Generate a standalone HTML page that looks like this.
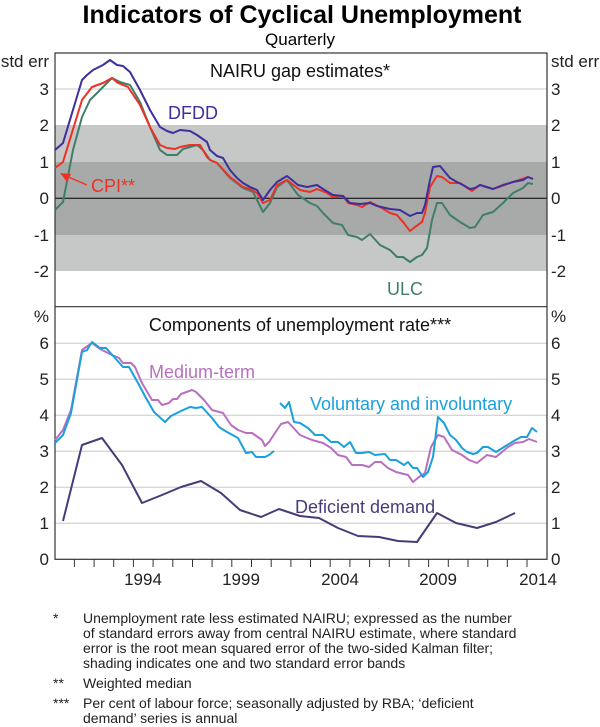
<!DOCTYPE html>
<html><head><meta charset="utf-8"><style>
body{margin:0;background:#fff;}
svg{display:block;font-family:"Liberation Sans",Arial,sans-serif;}
</style></head><body>
<svg width="600" height="727" viewBox="0 0 600 727" xmlns="http://www.w3.org/2000/svg">
<text x="302" y="23" text-anchor="middle" font-size="25" font-weight="bold" fill="#000">Indicators of Cyclical Unemployment</text>
<text x="300" y="45" text-anchor="middle" font-size="17" fill="#000">Quarterly</text>
<rect x="55" y="125" width="492" height="146" fill="#c6c7c7"/>
<rect x="55" y="162" width="492" height="73" fill="#a8aaaa"/>
<line x1="55" y1="89" x2="547" y2="89" stroke="#c8c8c8" stroke-width="1"/>
<line x1="55" y1="198.3" x2="547" y2="198.3" stroke="#000" stroke-width="1"/>
<g stroke="#c8c8c8" stroke-width="1">
<line x1="55" y1="343.3" x2="547" y2="343.3"/><line x1="55" y1="379.3" x2="547" y2="379.3"/>
<line x1="55" y1="415.3" x2="547" y2="415.3"/><line x1="55" y1="451.3" x2="547" y2="451.3"/>
<line x1="55" y1="487.3" x2="547" y2="487.3"/><line x1="55" y1="523.3" x2="547" y2="523.3"/>
</g>
<rect x="55" y="53" width="492" height="506.3" fill="none" stroke="#333" stroke-width="1.2"/>
<line x1="55" y1="306.7" x2="547" y2="306.7" stroke="#333" stroke-width="1.2"/>
<g stroke="#333" stroke-width="1">
<line x1="74.4" y1="559" x2="74.4" y2="567"/><line x1="94.1" y1="559" x2="94.1" y2="567"/><line x1="113.7" y1="559" x2="113.7" y2="567"/><line x1="133.4" y1="559" x2="133.4" y2="567"/><line x1="153.1" y1="559" x2="153.1" y2="567"/><line x1="172.8" y1="559" x2="172.8" y2="567"/><line x1="192.5" y1="559" x2="192.5" y2="567"/><line x1="212.1" y1="559" x2="212.1" y2="567"/><line x1="231.8" y1="559" x2="231.8" y2="567"/><line x1="251.5" y1="559" x2="251.5" y2="567"/><line x1="271.2" y1="559" x2="271.2" y2="567"/><line x1="290.9" y1="559" x2="290.9" y2="567"/><line x1="310.5" y1="559" x2="310.5" y2="567"/><line x1="330.2" y1="559" x2="330.2" y2="567"/><line x1="349.9" y1="559" x2="349.9" y2="567"/><line x1="369.6" y1="559" x2="369.6" y2="567"/><line x1="389.3" y1="559" x2="389.3" y2="567"/><line x1="408.9" y1="559" x2="408.9" y2="567"/><line x1="428.6" y1="559" x2="428.6" y2="567"/><line x1="448.3" y1="559" x2="448.3" y2="567"/><line x1="468" y1="559" x2="468" y2="567"/><line x1="487.7" y1="559" x2="487.7" y2="567"/><line x1="507.3" y1="559" x2="507.3" y2="567"/><line x1="527" y1="559" x2="527" y2="567"/>
</g>
<g font-size="17" fill="#222" text-anchor="middle">
<text x="143" y="585">1994</text><text x="241" y="585">1999</text><text x="340" y="585">2004</text><text x="438" y="585">2009</text><text x="538" y="585">2014</text>
</g>
<g font-size="17" fill="#222" text-anchor="end">
<text x="49" y="67">std err</text>
<text x="49" y="95">3</text><text x="49" y="131">2</text><text x="49" y="168">1</text><text x="49" y="204">0</text><text x="49" y="241">-1</text><text x="49" y="277">-2</text>
<text x="49" y="322">%</text>
<text x="49" y="349">6</text><text x="49" y="385">5</text><text x="49" y="421">4</text><text x="49" y="457">3</text><text x="49" y="493">2</text><text x="49" y="529">1</text><text x="49" y="565">0</text>
</g>
<g font-size="17" fill="#222" text-anchor="start">
<text x="551" y="67">std err</text>
<text x="551" y="95">3</text><text x="551" y="131">2</text><text x="551" y="168">1</text><text x="551" y="204">0</text><text x="551" y="241">-1</text><text x="551" y="277">-2</text>
<text x="551" y="322">%</text>
<text x="551" y="349">6</text><text x="551" y="385">5</text><text x="551" y="421">4</text><text x="551" y="457">3</text><text x="551" y="493">2</text><text x="551" y="529">1</text><text x="551" y="565">0</text>
</g>
<text x="300" y="77" text-anchor="middle" font-size="18" fill="#111">NAIRU gap estimates*</text>
<text x="300" y="331" text-anchor="middle" font-size="18" fill="#111">Components of unemployment rate***</text>
<g fill="none" stroke-width="2" stroke-linejoin="round">
<polyline stroke="#3f7f6a" points="55,210 63,202 73,150 82,117 90,100 100,90 112,78 120,82 130,85 140,102 150,127 160,150 167,155 177,155 183,149 197,145 203,150 210,160 217,163 230,178 243,188 253,192 263,212 270,203 277,187 287,180 298,195 310,203 317,206 323,213 333,223 342,225 348,235 357,237 362,240 370,234 380,245 390,250 397,257 403,257 410,262 417,257 422,255 427,248 432,220 437,203 442,203 450,215 460,222 470,228 475,227 483,215 493,212 503,203 513,193 523,188 528,183 533,184"/>
<polyline stroke="#ee3124" points="55,168 63,162 82,100 92,87 103,83 112,78 118,83 128,87 140,105 150,127 160,145 167,148 175,149 180,147 190,145 200,145 207,157 210,160 217,163 230,177 243,187 250,189 257,193 263,203 270,200 277,185 287,180 300,190 310,192 317,189 327,193 333,197 343,196 348,203 357,205 362,207 370,202 380,207 390,213 397,215 403,222 410,231 415,227 422,222 425,213 430,187 437,176 442,177 450,183 460,183 472,191 480,185 493,189 513,182 528,177 533,179"/>
<polyline stroke="#3d2f9c" points="55,150 63,143 82,80 87,75 93,70 103,65 110,60 117,65 123,66 130,72 140,90 150,110 160,127 167,131 173,133 180,130 190,131 197,135 207,142 210,150 217,156 223,158 230,170 237,178 243,183 250,187 257,190 263,200 270,190 277,182 287,176 298,185 307,187 317,185 323,189 333,195 343,196 350,203 360,204 370,203 377,206 390,209 400,210 405,213 410,216 417,213 422,213 425,205 430,180 433,167 440,166 450,178 457,182 463,185 470,189 475,188 480,185 493,189 503,185 513,182 523,180 528,177 533,179"/>
</g>
<text x="168" y="119" font-size="18" fill="#3d2f9c">DFDD</text>
<text x="91" y="192" font-size="18" fill="#ee3124">CPI**</text>
<line x1="87" y1="185" x2="66" y2="176" stroke="#ee3124" stroke-width="1.3"/>
<polygon points="60,173 71,174 67,182" fill="#ee3124"/>
<text x="387" y="295" font-size="18" fill="#3f7f6a">ULC</text>
<g fill="none" stroke-width="2" stroke-linejoin="round">
<polyline stroke="#b86fc0" points="55,440 63,430 71,410 82,350 92,343 100,349 112,355 119,358 123,363 131,363 135,367 142,383 152,400 158,400 162,405 169,403 173,399 177,399 181,394 192,390 196,392 204,400 212,410 223,413 231,425 238,430 246,433 252,433 262,440 265,446 269,442 281,424 288,422 300,435 312,440 323,443 331,448 338,455 346,457 352,465 362,465 369,467 375,462 381,462 388,468 396,472 408,475 413,482 419,477 425,473 431,447 438,435 444,437 452,450 462,455 469,460 477,463 487,455 496,457 508,447 515,443 523,442 529,439 537,442"/>
<polyline stroke="#1aa0dc" points="55,443 63,435 71,413 82,352 87,350 92,342 100,348 106,348 115,358 123,367 129,367 138,383 146,398 154,412 165,422 171,416 181,411 190,407 196,408 202,407 212,418 219,427 227,432 238,438 246,453 252,452 256,457 265,457 269,455 274,451"/>
<polyline stroke="#1aa0dc" points="280,403 285,408 289,402 294,422 300,423 308,428 315,435 323,435 331,442 338,442 344,447 350,442 356,453 362,453 369,452 375,455 385,454 390,460 396,460 404,465 408,462 413,468 417,468 423,477 428,472 433,457 438,417 444,423 450,435 456,440 462,448 467,452 473,454 477,453 483,447 488,447 496,452 504,447 512,442 521,437 527,437 532,428 537,432"/>
<polyline stroke="#4a3a78" points="63,521 82,445 102,438 122,465 142,503 162,495 181,487 201,481 221,493 240,510 261,517 279,509 300,516 319,518 338,528 358,536 379,537 398,541 417,542 437,513 456,523 477,528 496,522 515,513"/>
</g>
<text x="149" y="378" font-size="18" fill="#b86fc0">Medium-term</text>
<text x="310" y="410" font-size="18" fill="#1aa0dc">Voluntary and involuntary</text>
<text x="295" y="513" font-size="18" fill="#4a3a78">Deficient demand</text>
<g font-size="14" fill="#222">
<text x="53" y="623">*</text>
<text x="83" y="623">Unemployment rate less estimated NAIRU; expressed as the number</text>
<text x="83" y="638">of standard errors away from central NAIRU estimate, where standard</text>
<text x="83" y="653">error is the root mean squared error of the two-sided Kalman filter;</text>
<text x="83" y="668">shading indicates one and two standard error bands</text>
<text x="53" y="688">**</text>
<text x="83" y="688">Weighted median</text>
<text x="53" y="708">***</text>
<text x="83" y="708">Per cent of labour force; seasonally adjusted by RBA; ‘deficient</text>
<text x="83" y="723">demand’ series is annual</text>
</g>
</svg>
</body></html>
